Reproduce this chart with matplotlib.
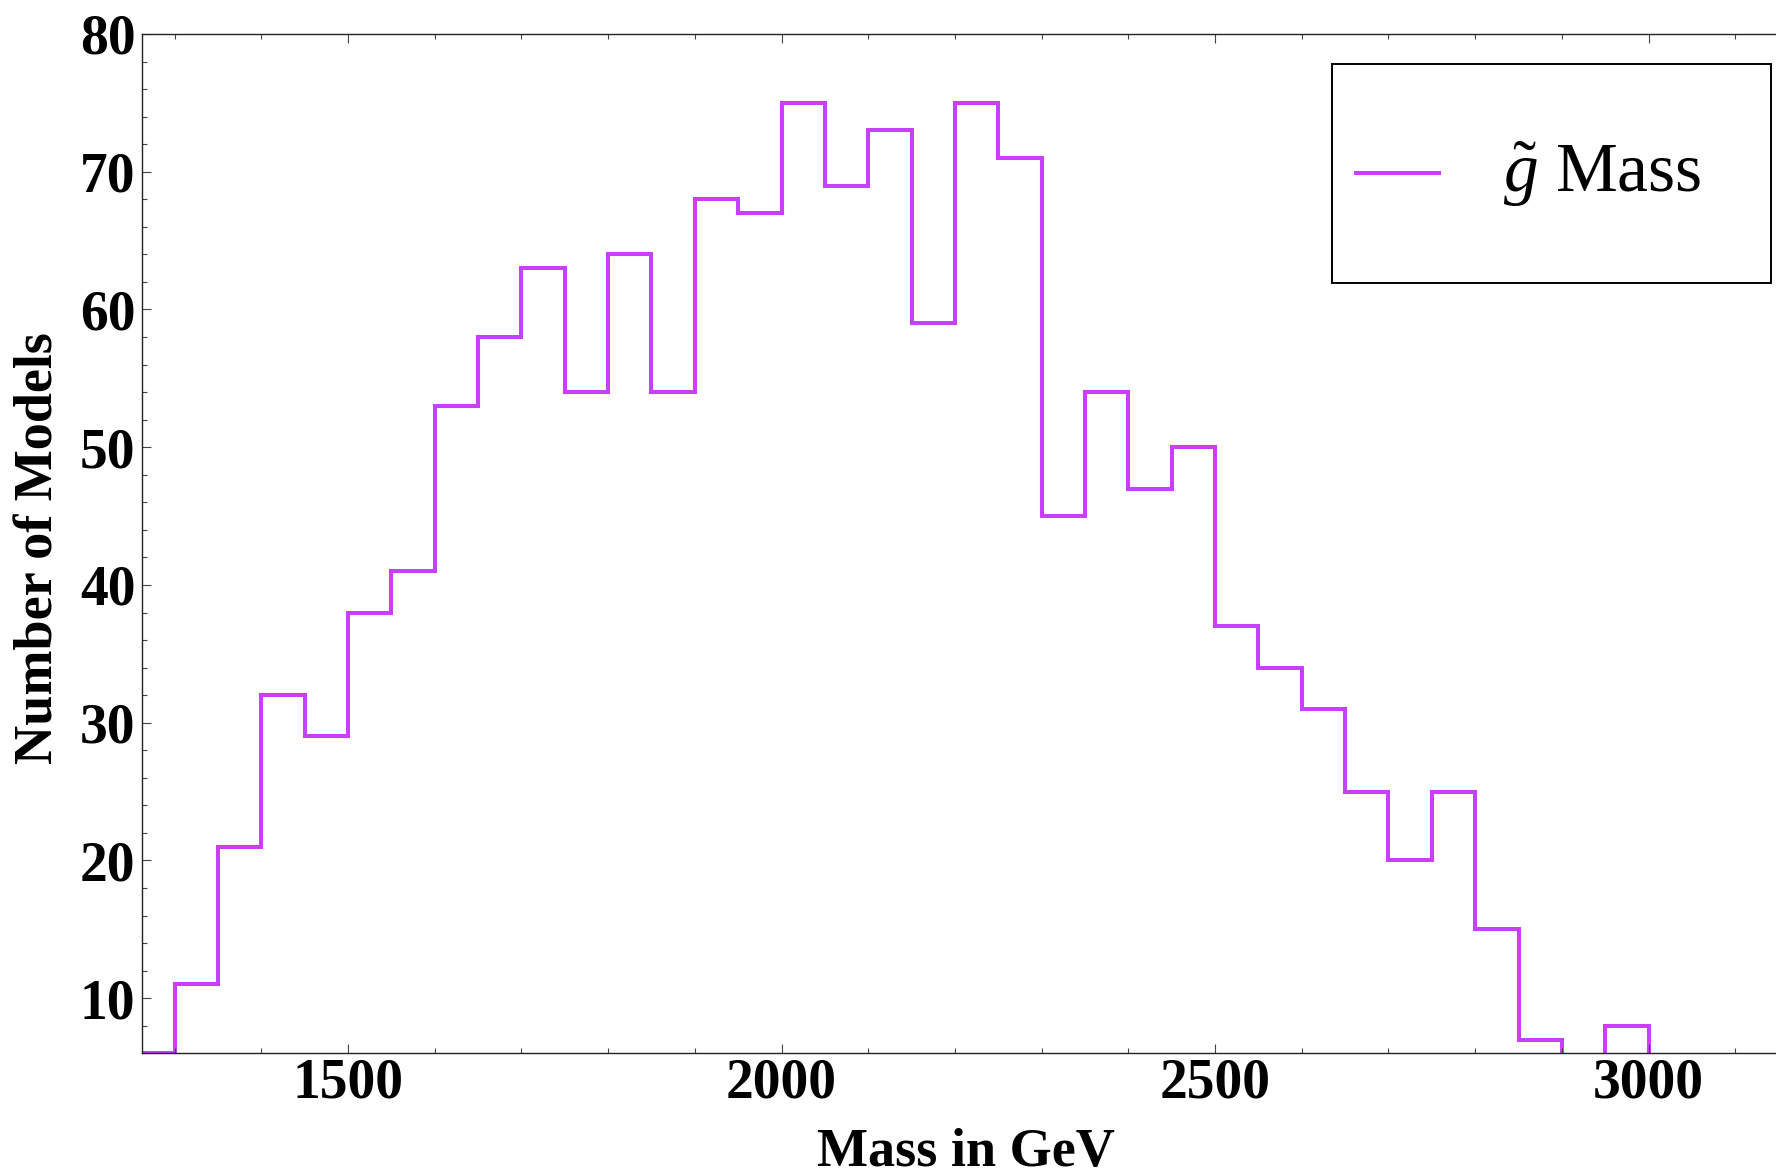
import numpy as np
import matplotlib
matplotlib.use("Agg")
import matplotlib.pyplot as plt
from matplotlib.patches import Rectangle
from matplotlib.lines import Line2D
from matplotlib.ticker import MultipleLocator

# Gluino mass histogram: 50 GeV bins
bin_edges = list(range(1250, 3001, 50))
counts = [6, 11, 21, 32, 29, 38, 41, 53, 58, 63, 54, 64, 54, 68, 67,
          75, 69, 73, 59, 75, 71, 45, 54, 47, 50, 37, 34, 31, 25, 20,
          25, 15, 7, 0, 8]
x_ticks = [1500, 2000, 2500, 3000]
y_ticks = [10, 20, 30, 40, 50, 60, 70, 80]
series_label = r"$\tilde{g}$ Mass"
x_label = "Mass in GeV"
y_label = "Number of Models"

line_color = "#c83fff"

plt.rcParams["font.family"] = ["Liberation Serif", "DejaVu Serif"]
plt.rcParams["mathtext.fontset"] = "custom"
plt.rcParams["mathtext.rm"] = "Liberation Serif"
plt.rcParams["mathtext.it"] = "Liberation Serif:italic"

W, H = 1776, 1172
fig = plt.figure(figsize=(W / 100, H / 100), dpi=100)
ax_l, ax_r, ax_t, ax_b = 141.7, 1776.0, 34.0, 1053.3
ax = fig.add_axes([ax_l / W, 1 - ax_b / H, (ax_r - ax_l) / W, (ax_b - ax_t) / H])

ax.stairs(counts, bin_edges, color=line_color, linewidth=2.9, label=series_label)

ax.set_xlim(1262, 3147)
ax.set_ylim(6, 80)

ax.set_xticks(x_ticks)
ax.set_yticks(y_ticks)
ax.xaxis.set_minor_locator(MultipleLocator(100))
ax.yaxis.set_minor_locator(MultipleLocator(2))

ax.tick_params(axis="both", which="both", direction="in", colors="#444444",
               labelcolor="black", width=0.8)
ax.tick_params(axis="x", which="both", top=True, bottom=True)
ax.tick_params(axis="y", which="both", left=True, right=False)
ax.tick_params(which="major", length=6.5)
ax.tick_params(which="minor", length=3.8)
ax.tick_params(axis="x", which="major", pad=3, labelsize=40)
ax.tick_params(axis="y", which="major", pad=4.5, labelsize=40)
for lbl in ax.get_xticklabels() + ax.get_yticklabels():
    lbl.set_fontweight("bold")

for side in ("left", "bottom", "top"):
    ax.spines[side].set_color("#222222")
    ax.spines[side].set_linewidth(1.0)
ax.spines["right"].set_visible(False)

ax.set_xlabel(x_label, fontsize=39, fontweight="bold")
ax.xaxis.set_label_coords((966 - ax_l) / (ax_r - ax_l), -(1166 - ax_b) / (ax_b - ax_t))
ax.xaxis.label.set_va("baseline")

ax.set_ylabel(y_label, fontsize=39, fontweight="bold")
ax.yaxis.set_label_coords((40 - ax_l) / (ax_r - ax_l), (ax_b - 548) / (ax_b - ax_t))
ax.yaxis.label.set_va("center")

# Framed legend box in the upper right
def fx(px):
    return (px - ax_l) / (ax_r - ax_l)

def fy(py):
    return (ax_b - py) / (ax_b - ax_t)

box = Rectangle((fx(1332), fy(283)), fx(1771) - fx(1332), fy(64) - fy(283),
                transform=ax.transAxes, facecolor="white", edgecolor="black",
                linewidth=1.4, zorder=5)
ax.add_patch(box)
ax.add_line(Line2D([fx(1356), fx(1439)], [fy(173), fy(173)], transform=ax.transAxes,
                   color=line_color, linewidth=2.9, zorder=6))
ax.text(fx(1503), fy(192), series_label, transform=ax.transAxes, fontsize=50,
        ha="left", va="baseline", zorder=6)

fig.savefig("out.png", dpi=100)
